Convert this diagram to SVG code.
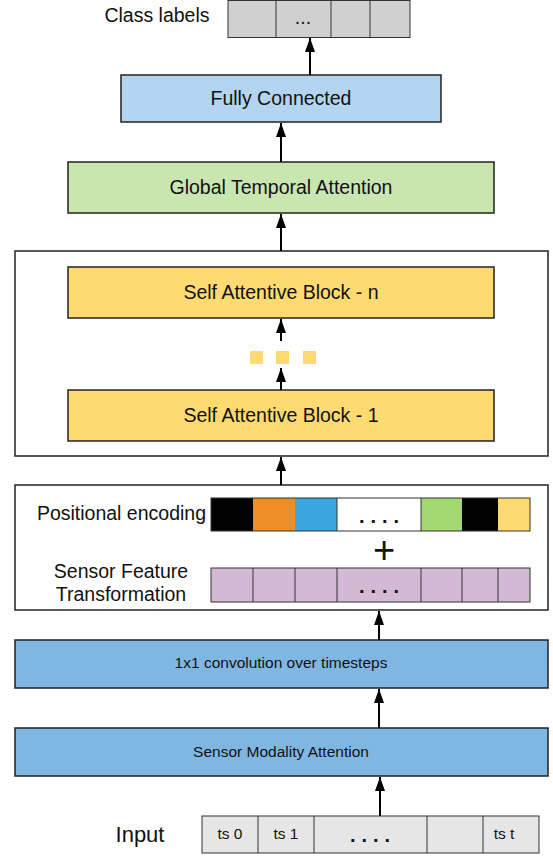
<svg xmlns="http://www.w3.org/2000/svg" width="553" height="856" viewBox="0 0 553 856">
<defs>
<marker id="ah" markerWidth="14" markerHeight="10" refX="14" refY="5" orient="auto" markerUnits="userSpaceOnUse" viewBox="0 0 14 10">
<path d="M0,0 L14,5 L0,10 Z" fill="#000"/>
</marker>
</defs>
<style>
text{font-family:"Liberation Sans",Arial,sans-serif;fill:#111;}
.b{stroke:#222;stroke-width:1.5;}
.c{stroke:#333;stroke-width:1;}
.arr{stroke:#000;stroke-width:2;fill:none;}
.t20{font-size:19.5px;}
.t15{font-size:15.5px;}
.dots{font-size:20px;font-weight:bold;letter-spacing:6px;text-anchor:middle;}
.mid{text-anchor:middle;}
</style>
<rect width="553" height="856" fill="#fff"/>

<g id="class-labels">
<text x="157" y="22" class="t20 mid">Class labels</text>
<rect x="228" y="0.5" width="182" height="37" fill="#d0d0d0" class="c"/>
<line x1="276" y1="0.5" x2="276" y2="37.5" class="c"/>
<line x1="331" y1="0.5" x2="331" y2="37.5" class="c"/>
<line x1="370" y1="0.5" x2="370" y2="37.5" class="c"/>
<text x="303" y="24" class="t20 mid">...</text>
</g>

<g id="fully-connected">
<rect x="121" y="75" width="320" height="47" fill="#b3d5ef" class="b"/>
<text x="281" y="105" class="t20 mid">Fully Connected</text>
</g>

<g id="global-temporal-attention">
<rect x="68" y="162" width="426" height="51" fill="#c9e6b1" class="b"/>
<text x="281" y="194" class="t20 mid">Global Temporal Attention</text>
</g>

<g id="self-attention-stack">
<rect x="15" y="251" width="533" height="205" fill="#fff" class="b"/>
</g>

<g id="sab-n">
<rect x="68" y="267" width="426" height="51" fill="#fddb70" class="b"/>
<text x="281" y="299" class="t20 mid">Self Attentive Block - n</text>
</g>

<g id="ellipsis">
<rect x="250" y="351" width="13" height="13" fill="#fddb70"/>
<rect x="276" y="351" width="13" height="13" fill="#fddb70"/>
<rect x="303" y="351" width="13" height="13" fill="#fddb70"/>
</g>

<g id="sab-1">
<rect x="68" y="390" width="426" height="51" fill="#fddb70" class="b"/>
<text x="281" y="422" class="t20 mid">Self Attentive Block - 1</text>
</g>

<g id="embedding">
<rect x="15" y="485" width="533" height="125" fill="#fff" class="b"/>
<text x="206" y="520" class="t20" text-anchor="end">Positional encoding</text>
<rect x="211" y="498" width="42" height="33" fill="#000"/>
<rect x="253" y="498" width="42" height="33" fill="#ef8d27"/>
<rect x="295" y="498" width="42" height="33" fill="#3aa5de"/>
<rect x="337" y="498" width="84" height="33" fill="#fff"/>
<rect x="421" y="498" width="41" height="33" fill="#a2d86f"/>
<rect x="462" y="498" width="36" height="33" fill="#000"/>
<rect x="498" y="498" width="32" height="33" fill="#fddb70"/>
<rect x="211" y="498" width="319" height="33" fill="none" class="c"/>
<line x1="337" y1="498" x2="337" y2="531" class="c"/>
<line x1="421" y1="498" x2="421" y2="531" class="c"/>
<text x="382" y="523" class="dots">....</text>
<text x="384" y="563" font-size="38" class="mid">+</text>
<text x="121" y="578" class="t20 mid">Sensor Feature</text>
<text x="121" y="601" class="t20 mid">Transformation</text>
<rect x="211" y="568" width="319" height="34" fill="#d3b9d3" class="c"/>
<line x1="253" y1="568" x2="253" y2="602" class="c"/>
<line x1="295" y1="568" x2="295" y2="602" class="c"/>
<line x1="337" y1="568" x2="337" y2="602" class="c"/>
<line x1="421" y1="568" x2="421" y2="602" class="c"/>
<line x1="462" y1="568" x2="462" y2="602" class="c"/>
<line x1="498" y1="568" x2="498" y2="602" class="c"/>
<text x="382" y="593" class="dots">....</text>
</g>

<g id="conv">
<rect x="15" y="640" width="533" height="48" fill="#80b7e2" class="b"/>
<text x="281" y="668" class="t15 mid">1x1 convolution over timesteps</text>
</g>

<g id="sensor-modality-attention">
<rect x="15" y="728" width="533" height="48" fill="#80b7e2" class="b"/>
<text x="281" y="757" class="t15 mid">Sensor Modality Attention</text>
</g>

<g id="input">
<text x="140" y="842" font-size="22" class="mid">Input</text>
<rect x="202" y="816" width="337" height="37" fill="#e6e6e6" class="c"/>
<line x1="258" y1="816" x2="258" y2="853" class="c"/>
<line x1="314" y1="816" x2="314" y2="853" class="c"/>
<line x1="427" y1="816" x2="427" y2="853" class="c"/>
<line x1="483" y1="816" x2="483" y2="853" class="c"/>
<text x="230" y="839" class="t15 mid">ts 0</text>
<text x="286" y="839" class="t15 mid">ts 1</text>
<text x="373" y="842" class="dots">....</text>
<text x="504" y="839" class="t15 mid">ts t</text>
</g>

<g id="connectors">
<line x1="310" y1="75" x2="310" y2="38" class="arr" marker-end="url(#ah)"/>
<line x1="281" y1="162" x2="281" y2="123" class="arr" marker-end="url(#ah)"/>
<line x1="281" y1="251" x2="281" y2="214" class="arr" marker-end="url(#ah)"/>
<line x1="281" y1="341" x2="281" y2="319" class="arr" marker-end="url(#ah)"/>
<line x1="281" y1="390" x2="281" y2="368" class="arr" marker-end="url(#ah)"/>
<line x1="281" y1="485" x2="281" y2="457" class="arr" marker-end="url(#ah)"/>
<line x1="379" y1="640" x2="379" y2="611" class="arr" marker-end="url(#ah)"/>
<line x1="379" y1="728" x2="379" y2="689" class="arr" marker-end="url(#ah)"/>
<line x1="380" y1="816" x2="380" y2="777" class="arr" marker-end="url(#ah)"/>
</g>
</svg>
